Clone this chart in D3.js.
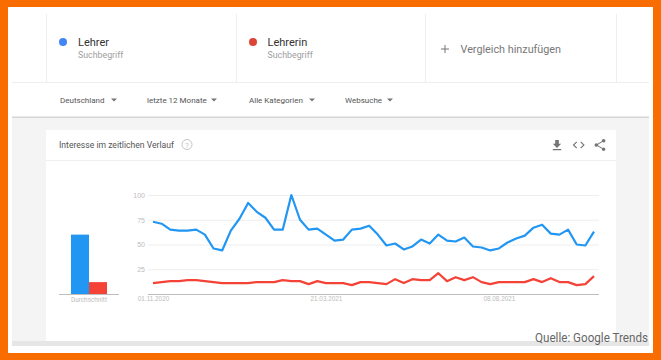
<!DOCTYPE html>
<html>
<head>
<meta charset="utf-8">
<script src="https://cdn.jsdelivr.net/npm/d3@7"></script>
<style>
    html, body { margin: 0; padding: 0; background: #f86c00; }
    svg { display: block; font-family: Roboto, sans-serif; }
    .grid .domain { display: none; }
    .grid line { stroke: #eeeeee; }
    .grid text { fill: #bdbdbd; font-size: 7px; }
    .dates .domain { stroke: #bdbdbd; }
    .dates line { display: none; }
    .dates text { fill: #bdbdbd; font-size: 6.4px; }
</style>
</head>
<body>
<div id="chart-area"></div>
<script>
var weeks = [
    "01.11.2020", "08.11.2020", "15.11.2020", "22.11.2020", "29.11.2020", "06.12.2020", "13.12.2020",
    "20.12.2020", "27.12.2020", "03.01.2021", "10.01.2021", "17.01.2021", "24.01.2021", "31.01.2021",
    "07.02.2021", "14.02.2021", "21.02.2021", "28.02.2021", "07.03.2021", "14.03.2021", "21.03.2021",
    "28.03.2021", "04.04.2021", "11.04.2021", "18.04.2021", "25.04.2021", "02.05.2021", "09.05.2021",
    "16.05.2021", "23.05.2021", "30.05.2021", "06.06.2021", "13.06.2021", "20.06.2021", "27.06.2021",
    "04.07.2021", "11.07.2021", "18.07.2021", "25.07.2021", "01.08.2021", "08.08.2021", "15.08.2021",
    "22.08.2021", "29.08.2021", "05.09.2021", "12.09.2021", "19.09.2021", "26.09.2021", "03.10.2021",
    "10.10.2021", "17.10.2021", "24.10.2021"
];
var lehrer = [73, 71, 65, 64, 64, 65, 60, 46, 44, 64, 76, 92, 83, 77, 65, 65, 100, 75, 65, 66, 60, 54, 55, 65, 66, 69,
    60, 49, 51, 45, 48, 55, 51, 60, 54, 53, 57, 48, 47, 44, 46, 52, 56, 59, 67, 70, 61, 60, 65, 50, 49, 63];
var lehrerin = [11, 12, 13, 13, 14, 14, 13, 12, 11, 11, 11, 11, 12, 12, 12, 14, 13, 13, 10, 13, 11, 11, 11, 9, 12, 12,
    11, 10, 15, 11, 15, 14, 14, 21, 13, 17, 14, 17, 12, 10, 12, 12, 12, 12, 15, 12, 16, 12, 12, 9, 10, 18];
var averageNames = ["Lehrer", "Lehrerin"];
var averages = [60, 12];
var yTicks = [25, 50, 75, 100];
var xTicks = ["01.11.2020", "21.03.2021", "08.08.2021"];
var filters = ["Deutschland", "letzte 12 Monate", "Alle Kategorien", "Websuche"];

var BLUE = "#2196f3", RED = "#f44336";

var svg = d3.select("#chart-area").append("svg").attr("width", 661).attr("height", 360);

function box(x, y, w, h, fill) {
    return svg.append("rect").attr("x", x).attr("y", y).attr("width", w).attr("height", h).attr("fill", fill);
}
function label(x, y, str, size, color) {
    return svg.append("text").attr("x", x).attr("y", y).attr("font-size", size).attr("fill", color).text(str);
}
function icon(path, cx, cy, color) {
    svg.append("path").attr("d", path).attr("fill", color)
        .attr("transform", "translate(" + (cx - 7.2) + "," + (cy - 7.2) + ") scale(0.6)");
}

// page background and frame
box(0, 0, 661, 360, "#f86c00");
box(8, 7, 645, 346, "#ffffff");
box(12, 117, 637, 229, "#f4f4f4");
box(12, 82, 637, 1, "#eeeeee");
box(12, 116.5, 637, 1.5, "#d6d6d6");

// search term header
[46, 236, 425, 616].forEach(function (x) {
    box(x, 14, 1, 68, "#eeeeee");
});
svg.append("circle").attr("cx", 63).attr("cy", 42).attr("r", 4).attr("fill", "#4285f4");
svg.append("circle").attr("cx", 253).attr("cy", 42).attr("r", 4).attr("fill", "#db4437");
label(78, 46, "Lehrer", 11, "#333333");
label(78, 58, "Suchbegriff", 8.8, "#9e9e9e");
label(267.5, 46, "Lehrerin", 11, "#333333");
label(267.5, 58, "Suchbegriff", 8.8, "#9e9e9e");
box(441, 48.5, 8, 1, "#777777");
box(444.5, 45, 1, 8, "#777777");
label(460.5, 53, "Vergleich hinzufügen", 10.8, "#777777");

// filter row
var filterX = [60, 147, 249, 345];
var arrowX = [114, 214, 312, 390];
filters.forEach(function (f, i) {
    label(filterX[i], 103, f, 8, "#555555");
    svg.append("path")
        .attr("d", "M" + (arrowX[i] - 3) + ",98.5 h6 l-3,3 z")
        .attr("fill", "#757575");
});

// card
box(46, 130, 570, 211, "#ffffff");
box(46, 160, 570, 1, "#f0f0f0");
box(12, 341, 637, 5, "#e6e6e6");
label(59, 148, "Interesse im zeitlichen Verlauf", 8.6, "#555555");
svg.append("circle").attr("cx", 187).attr("cy", 144.5).attr("r", 5)
    .attr("fill", "none").attr("stroke", "#c4c4c4");
label(187, 147.5, "?", 8, "#c4c4c4").attr("text-anchor", "middle");

icon("M19 9h-4V3H9v6H5l7 7 7-7zM5 18v2h14v-2H5z", 557, 145.5, "#757575");
icon("M9.4 16.6L4.8 12l4.6-4.6L8 6l-6 6 6 6 1.4-1.4zm5.2 0l4.6-4.6-4.6-4.6L16 6l6 6-6 6-1.4-1.4z", 578.7, 145, "#757575");
icon("M18 16.08c-.76 0-1.44.3-1.96.77L8.91 12.7c.05-.23.09-.46.09-.7s-.04-.47-.09-.7l7.05-4.11c.54.5 1.25.81 2.04.81 1.66 0 3-1.34 3-3s-1.34-3-3-3-3 1.34-3 3c0 .24.04.47.09.7L8.04 9.81C7.5 9.31 6.79 9 6 9c-1.66 0-3 1.34-3 3s1.34 3 3 3c.79 0 1.5-.31 2.04-.81l7.12 4.16c-.05.21-.08.43-.08.65 0 1.61 1.31 2.92 2.92 2.92 1.61 0 2.92-1.31 2.92-2.92s-1.31-2.92-2.92-2.92z", 600, 145, "#757575");

// scales
var y = d3.scaleLinear().domain([0, 100]).range([294, 195]);
var x = d3.scalePoint().domain(weeks).range([153, 594]);
var barX = d3.scaleBand().domain(averageNames).range([71, 107]);

// gridlines and y labels
svg.append("g").attr("class", "grid")
    .attr("transform", "translate(148,0)")
    .call(d3.axisLeft(y).tickValues(yTicks).tickSize(-451).tickPadding(3))
    .selectAll("text").attr("dy", "0.32em");

// date axis
svg.append("g").attr("class", "dates")
    .attr("transform", "translate(0,294)")
    .call(d3.axisBottom(x).tickValues(xTicks).tickSize(0).tickPadding(2))
    .select(".domain").attr("d", "M148,0.5H599");

// average bars
svg.selectAll(".avg").data(averages).enter().append("rect")
    .attr("class", "avg")
    .attr("x", function (d, i) { return barX(averageNames[i]); })
    .attr("y", function (d) { return y(d); })
    .attr("width", barX.bandwidth())
    .attr("height", function (d) { return y(0) - y(d); })
    .attr("fill", function (d, i) { return i == 0 ? BLUE : RED; });
box(59, 294, 60, 1, "#bdbdbd");
label(89, 301.5, "Durchschnitt", 6.4, "#bdbdbd").attr("text-anchor", "middle");

// lines
var line = d3.line()
    .x(function (d, i) { return x(weeks[i]); })
    .y(function (d) { return y(d); });

[[lehrer, BLUE], [lehrerin, RED]].forEach(function (s) {
    svg.append("path").datum(s[0])
        .attr("d", line)
        .attr("fill", "none")
        .attr("stroke", s[1])
        .attr("stroke-width", 2.2)
        .attr("stroke-linejoin", "round");
});

// source note
label(535, 342, "Quelle: Google Trends", 13, "#666666")
    .attr("font-family", "'Liberation Sans Narrow', Roboto, sans-serif")
    .attr("textLength", 113)
    .attr("lengthAdjust", "spacingAndGlyphs");
</script>
</body>
</html>
